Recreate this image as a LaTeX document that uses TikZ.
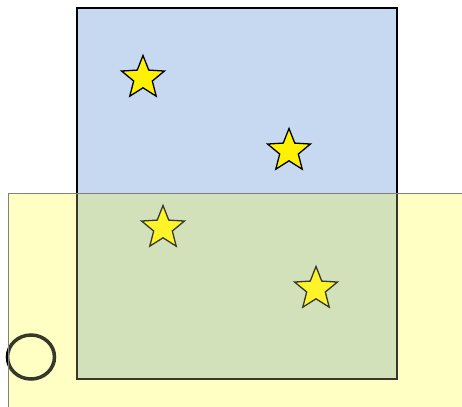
\documentclass[tikz,border=0pt]{standalone}
\usetikzlibrary{shapes.geometric}
\definecolor{paleblue}{HTML}{C6D9F1}
\definecolor{overlayyellow}{HTML}{FFFFC3}
\tikzset{
  starnode/.style={star, star points=5, star point ratio=2.3, minimum size=45pt, inner sep=0pt, fill=yellow, draw=black, line width=1.3pt},
  bluebox/.style={fill=paleblue, draw=black, line width=2pt},
}
\begin{document}
\begin{tikzpicture}[x=1pt,y=-1pt]
\useasboundingbox (0,0) rectangle (462,406);
\clip (0,0) rectangle (462,406);
\draw[bluebox] (77,8) rectangle (397,379);
\node[starnode] (s1) at (143,78) {};
\node[starnode] (s2) at (289,151) {};
\node[starnode] (s3) at (163,228) {};
\node[starnode] (s4) at (316,289) {};
\node[ellipse, draw=black, line width=3.5pt, minimum width=47pt, minimum height=44pt, inner sep=0pt] (c) at (31,357) {};
\begin{scope}[blend mode=multiply]
\fill[overlayyellow] (8,193) rectangle (470,415);
\end{scope}
\fill[overlayyellow, opacity=0.22] (8,193) rectangle (470,415);
\draw[gray, line width=0.8pt] (470,193) -- (8,193) -- (8,415);
\end{tikzpicture}
\end{document}
